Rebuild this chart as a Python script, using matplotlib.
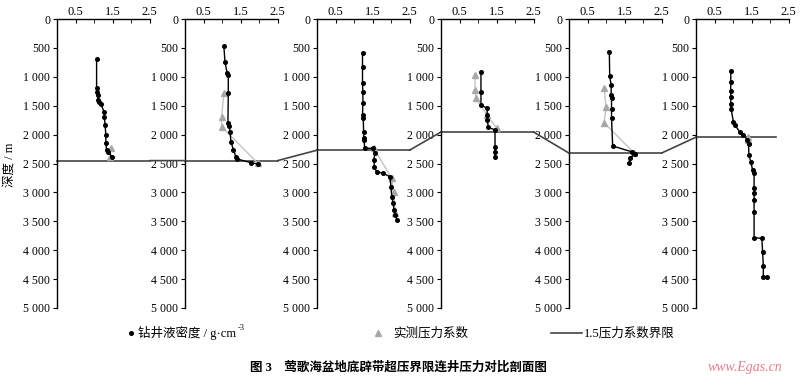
import matplotlib
matplotlib.use("Agg")
import matplotlib.pyplot as plt
from matplotlib.patches import ConnectionPatch
from matplotlib.lines import Line2D
from matplotlib.text import Annotation

plt.rcParams['font.family'] = ['Liberation Serif', 'Noto Sans CJK SC', 'DejaVu Sans']

# drilling fluid density (g/cm3) vs depth (m), one list per well
mud_x = [
    [1.07, 1.07, 1.08, 1.10, 1.10, 1.14, 1.19, 1.27, 1.28, 1.30, 1.32, 1.32, 1.34, 1.39, 1.48],
    [1.05, 1.08, 1.14, 1.17, 1.17, 1.16, 1.19, 1.22, 1.24, 1.31, 1.38, 1.40, 1.78, 1.98],
    [1.23, 1.23, 1.23, 1.24, 1.24, 1.23, 1.25, 1.26, 1.27, 1.27, 1.29, 1.52, 1.56, 1.54, 1.55,
     1.61, 1.79, 1.97, 2.00, 2.02, 2.06, 2.08, 2.11, 2.17],
    [1.08, 1.08, 1.08, 1.25, 1.25, 1.25, 1.28, 1.46, 1.46, 1.46, 1.46],
    [1.09, 1.10, 1.14, 1.14, 1.15, 1.15, 1.15, 1.18, 1.69, 1.78, 1.65, 1.62],
    [0.94, 0.94, 0.94, 0.94, 0.94, 0.95, 1.01, 1.05, 1.19, 1.28, 1.39, 1.42, 1.43, 1.48, 1.53,
     1.57, 1.57, 1.57, 1.57, 1.57, 1.57, 1.78, 1.80, 1.82, 1.82, 1.91],
]
mud_d = [
    [700, 1200, 1257, 1315, 1400, 1430, 1476, 1603, 1690, 1834, 2007, 2150, 2266, 2295, 2382],
    [467, 738, 940, 969, 1286, 1805, 1845, 1949, 2122, 2266, 2390, 2420, 2486, 2509],
    [594, 825, 1113, 1257, 1459, 1661, 1718, 1949, 2064, 2093, 2237, 2237, 2324, 2439, 2555,
     2642, 2670, 2728, 2901, 3074, 3189, 3304, 3391, 3478],
    [911, 1257, 1488, 1545, 1661, 1747, 1874, 1920, 2209, 2296, 2393],
    [576, 986, 1147, 1315, 1372, 1562, 1718, 2197, 2296, 2336, 2410, 2486],
    [894, 1095, 1246, 1355, 1476, 1557, 1776, 1834, 1960, 2007, 2093, 2168, 2353, 2468, 2612,
     2670, 2929, 3016, 3131, 3333, 3783, 3795, 4037, 4268, 4458, 4458],
]

# measured pressure coefficient vs depth (m)
coef_x = [
    [1.46, 1.42],
    [1.05, 0.99, 0.99, 1.97],
    [1.53, 2.02, 2.07, 2.12],
    [0.92, 0.92, 0.95, 1.24, 1.51],
    [0.95, 1.00, 0.95, 1.76],
    [1.40, 1.40],
]
coef_d = [
    [2240, 2380],
    [1286, 1690, 1863, 2497],
    [2230, 2756, 3000, 3362],
    [975, 1228, 1372, 1661, 1891],
    [1200, 1517, 1794, 2320],
    [2050, 2100],
]

# depth of the 1.5 pressure coefficient limit in each well
limit_d = [2450, 2450, 2270, 1955, 2320, 2045]

yticks = [0, 500, 1000, 1500, 2000, 2500, 3000, 3500, 4000, 4500, 5000]
ytick_labels = [f"{v:,}".replace(",", " ") for v in yticks]
xticks = [0.5, 1.5, 2.5]

W, H = 800, 383
fig = plt.figure(figsize=(8, 3.83), dpi=100)
lefts = [57, 185, 317, 441, 569, 696]
line_c = '#444444'

axes = []
for i, left in enumerate(lefts):
    ax = fig.add_axes([left / W, 1 - 308 / H, 92.5 / W, 289 / H])
    ax.set_xlim(0, 2.5)
    ax.set_ylim(5000, 0)
    ax.patch.set_alpha(0)
    for s in ['right', 'bottom']:
        ax.spines[s].set_visible(False)
    for s in ['top', 'left']:
        ax.spines[s].set_linewidth(1.0)
    ax.xaxis.tick_top()
    ax.set_xticks(xticks)
    ax.set_xticklabels([str(v) for v in xticks])
    ax.set_xticks([0.5, 1.0, 1.5, 2.0, 2.5], minor=True)
    ax.tick_params(axis='x', which='both', direction='in', length=3, pad=1, labelsize=9)
    ax.set_yticks(yticks)
    ax.set_yticklabels(ytick_labels)
    ax.tick_params(axis='y', direction='out', length=3, pad=2, labelsize=8.5)

    ax.plot(coef_x[i], coef_d[i], color='#c4c4c4', lw=1.0, marker='^', ms=5,
            mfc='#a8a8a8', mec='#a8a8a8', zorder=3)
    ax.plot(mud_x[i], mud_d[i], color='black', lw=1.0, marker='o', ms=2.6, zorder=4)

    xend = 2.16 if i == len(lefts) - 1 else 2.5
    ax.plot([0, xend], [limit_d[i], limit_d[i]], color=line_c, lw=1.2, zorder=2, clip_on=False)
    axes.append(ax)

for i in range(len(axes) - 1):
    con = ConnectionPatch(xyA=(2.5, limit_d[i]), coordsA=axes[i].transData,
                          xyB=(0, limit_d[i + 1]), coordsB=axes[i + 1].transData,
                          color=line_c, lw=1.2)
    fig.add_artist(con)

fig.text(10 / W, 1 - 165 / H, '深度 / m', rotation=90, ha='center', va='center', fontsize=9)

# legend
ly = 1 - 333 / H
fig.add_artist(Line2D([131 / W], [ly], marker='o', ms=2.6, color='black', transform=fig.transFigure))
t = fig.text(138 / W, ly, '钻井液密度 / g·cm', ha='left', va='center', fontsize=9)
fig.add_artist(Annotation('-3', xy=(1.0, 0.85), xycoords=t, xytext=(1, 0),
                          textcoords='offset points', ha='left', va='center', fontsize=6))
fig.add_artist(Line2D([378 / W], [ly], marker='^', ms=5, color='#a8a8a8', lw=0,
                      transform=fig.transFigure))
fig.text(393 / W, ly, '实测压力系数', ha='left', va='center', fontsize=9)
fig.add_artist(Line2D([551 / W, 582 / W], [ly, ly], color=line_c, lw=1.2, transform=fig.transFigure))
fig.text(584 / W, ly, '1.5压力系数界限', ha='left', va='center', fontsize=9)

fig.text(398 / W, 1 - 367 / H, '图 3    莺歌海盆地底辟带超压界限连井压力对比剖面图',
         ha='center', va='center', fontsize=9, fontweight='bold')
fig.text(745 / W, 1 - 367 / H, 'www.Egas.cn', ha='center', va='center', fontsize=10,
         color='#e87c8c', style='italic')

fig.savefig('out.png', dpi=100)
